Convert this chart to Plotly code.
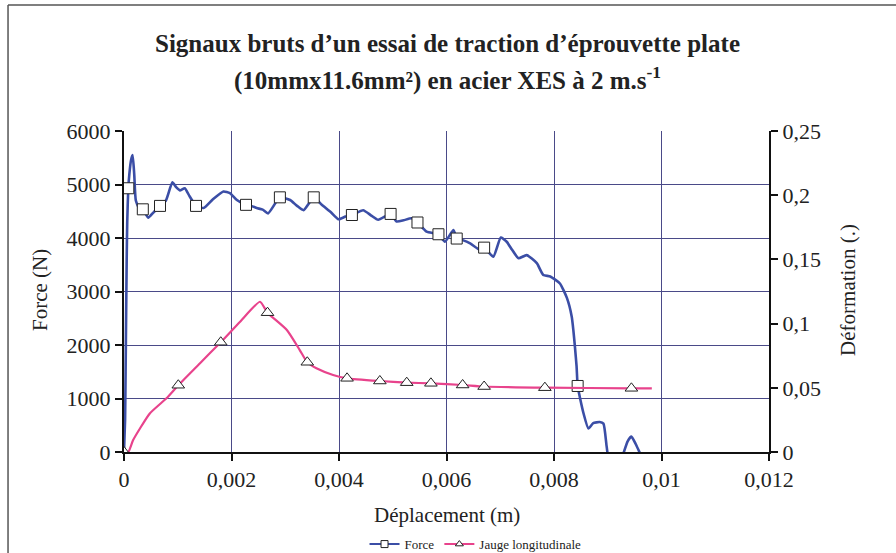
import plotly.graph_objects as go

# Raw signals: force (left axis) and longitudinal gauge strain (right axis) vs displacement
force_x = [0, 0.00002, 0.00003, 0.00004, 0.00005, 0.00006, 0.00008, 0.0001, 0.00013, 0.00016,
           0.00019, 0.00022, 0.00028, 0.00035, 0.00045, 0.00055, 0.00067, 0.00078, 0.0009, 0.00097,
           0.00104, 0.00113, 0.00122, 0.00134, 0.00148, 0.00165, 0.00185, 0.00197, 0.0021, 0.00227,
           0.00237, 0.00247, 0.00258, 0.00268, 0.0029, 0.00309, 0.00322, 0.00334, 0.00353, 0.00368,
           0.00385, 0.00399, 0.00412, 0.00424, 0.00445, 0.0046, 0.00473, 0.00496, 0.00507, 0.0052,
           0.00535, 0.00546, 0.00563, 0.00585, 0.00597, 0.00613, 0.00619, 0.0063, 0.00644, 0.00662,
           0.0067, 0.00687, 0.00701, 0.00712, 0.00722, 0.00734, 0.00749, 0.00768, 0.0078, 0.00793,
           0.00811, 0.00824, 0.00833, 0.00836, 0.00839, 0.00842, 0.00844, 0.00848, 0.00855, 0.00864,
           0.00873, 0.00885, 0.00892, 0.00898, 0.00905, 0.0092, 0.00929, 0.00937, 0.00944, 0.00952,
           0.00963]
force_n = [0, 600, 1500, 2600, 3600, 4300, 4930, 5200, 5450, 5550,
           5200, 4700, 4560, 4536, 4380, 4480, 4600, 4700, 5040, 4950,
           4890, 4930, 4780, 4600, 4560, 4720, 4870, 4840, 4710, 4620,
           4600, 4560, 4530, 4460, 4760, 4710, 4600, 4520, 4760, 4620,
           4480, 4350, 4400, 4430, 4520, 4420, 4340, 4450, 4310, 4330,
           4370, 4290, 4120, 4070, 3930, 4150, 3990, 3960, 3900, 3780,
           3820, 3650, 4010, 3930, 3780, 3620, 3680, 3530, 3310, 3280,
           3150, 2880, 2530, 2280, 1960, 1600, 1234, 1030, 720, 440,
           540, 560, 530, 100, -300, -300, -30, 200, 290, 150,
           -90]

force_mark_x = [0.00008, 0.00035, 0.00067, 0.00134, 0.00227, 0.0029, 0.00353, 0.00424,
                0.00496, 0.00546, 0.00585, 0.00619, 0.0067, 0.00844]
force_mark_n = [4930, 4536, 4600, 4600, 4620, 4760, 4760, 4430,
                4450, 4290, 4070, 3990, 3820, 1234]

gauge_x = [0, 0.00008, 0.00017, 0.00048, 0.00079, 0.00101, 0.00141, 0.0018, 0.00216, 0.00253,
           0.00267, 0.00303, 0.00327, 0.00341, 0.00358, 0.00389, 0.00415, 0.00476, 0.00526, 0.00571,
           0.0063, 0.0067, 0.00783, 0.00944, 0.00982]
gauge_def = [0, 0.0, 0.0093, 0.030, 0.0418, 0.052, 0.069, 0.0855, 0.1015, 0.117,
             0.1085, 0.095, 0.0794, 0.0699, 0.0652, 0.060, 0.0574, 0.0553, 0.054, 0.0535,
             0.0522, 0.051, 0.0501, 0.0496, 0.0495]

gauge_mark_x = [0, 0.00101, 0.0018, 0.00267, 0.00341, 0.00415, 0.00476, 0.00526, 0.00571,
                0.0063, 0.0067, 0.00783, 0.00944]
gauge_mark_def = [0, 0.052, 0.0855, 0.1085, 0.0699, 0.0574, 0.0553, 0.054, 0.0535,
                  0.0522, 0.051, 0.0501, 0.0496]

x_ticks = [0, 0.002, 0.004, 0.006, 0.008, 0.01, 0.012]
x_tick_text = ["0", "0,002", "0,004", "0,006", "0,008", "0,01", "0,012"]
y_ticks = [0, 1000, 2000, 3000, 4000, 5000, 6000]
y_tick_text = ["0", "1000", "2000", "3000", "4000", "5000", "6000"]
y2_ticks = [0, 0.05, 0.1, 0.15, 0.2, 0.25]
y2_tick_text = ["0", "0,05", "0,1", "0,15", "0,2", "0,25"]

BLUE = "#3b4ea6"
PINK = "#e8438c"
SERIF = "Times New Roman, Liberation Serif, DejaVu Serif, serif"
GRID = "#4a4a88"
INK = "#222222"

fig = go.Figure()

fig.add_trace(go.Scatter(x=force_x, y=force_n, mode="lines",
                         line=dict(color=BLUE, width=2.6, shape="spline", smoothing=0.5),
                         showlegend=False, hoverinfo="skip"))
fig.add_trace(go.Scatter(x=force_mark_x, y=force_mark_n, mode="markers",
                         marker=dict(symbol="square", size=11, color="white",
                                     line=dict(color=INK, width=1)),
                         showlegend=False))
fig.add_trace(go.Scatter(x=gauge_x, y=gauge_def, mode="lines", yaxis="y2",
                         line=dict(color=PINK, width=2.2, shape="spline", smoothing=0.5),
                         showlegend=False, hoverinfo="skip"))
fig.add_trace(go.Scatter(x=gauge_mark_x, y=gauge_mark_def, mode="markers", yaxis="y2",
                         marker=dict(symbol="triangle-up", size=11, color="white",
                                     line=dict(color=INK, width=1)),
                         showlegend=False))

# legend entries
fig.add_trace(go.Scatter(x=[None], y=[None], mode="lines+markers", name="Force",
                         line=dict(color=BLUE, width=2),
                         marker=dict(symbol="square", size=7, color="white",
                                     line=dict(color=INK, width=1))))
fig.add_trace(go.Scatter(x=[None], y=[None], mode="lines+markers", name="Jauge longitudinale",
                         yaxis="y2", line=dict(color=PINK, width=2),
                         marker=dict(symbol="triangle-up", size=7, color="white",
                                     line=dict(color=INK, width=1))))

axis_font = dict(family=SERIF, size=22, color=INK)
title_font = dict(family=SERIF, size=21, color=INK)
tick_common = dict(showline=True, linecolor="#111111", linewidth=2, zeroline=False,
                   ticks="outside", ticklen=7, tickwidth=2, tickcolor="#111111",
                   tickfont=axis_font, tickmode="array")

fig.update_layout(
    width=896, height=553,
    margin=dict(l=124, r=127, t=131, b=101, autoexpand=False),
    paper_bgcolor="white", plot_bgcolor="white",
    font=dict(family=SERIF, color=INK),
    showlegend=True,
    legend=dict(orientation="h", x=0.545, y=-0.287, xanchor="center", yanchor="middle",
                font=dict(family=SERIF, size=13, color=INK),
                itemwidth=30, tracegroupgap=0, bgcolor="rgba(0,0,0,0)"),
    xaxis=dict(range=[0, 0.012], tickvals=x_ticks, ticktext=x_tick_text,
               showgrid=True, gridcolor=GRID, gridwidth=1, **tick_common),
    yaxis=dict(range=[0, 6000], tickvals=y_ticks, ticktext=y_tick_text,
               showgrid=True, gridcolor=GRID, gridwidth=1, **tick_common),
    yaxis2=dict(range=[0, 0.25], overlaying="y", side="right",
                tickvals=y2_ticks, ticktext=y2_tick_text, showgrid=False, **tick_common),
    annotations=[
        dict(text="<b>Signaux bruts d\u2019un essai de traction d\u2019\u00e9prouvette plate</b>",
             xref="paper", yref="paper", x=0.5008, y=1.272, showarrow=False,
             font=dict(family=SERIF, size=25, color=INK), xanchor="center", yanchor="middle"),
        dict(text="<b>(10mmx11.6mm\u00b2) en acier XES \u00e0 2 m.s<sup>-1</sup></b>",
             xref="paper", yref="paper", x=0.5008, y=1.165, showarrow=False,
             font=dict(family=SERIF, size=25, color=INK), xanchor="center", yanchor="middle"),
        dict(text="Force (N)", xref="paper", yref="paper", x=-0.130, y=0.505, textangle=-90,
             showarrow=False, font=title_font, xanchor="center", yanchor="middle"),
        dict(text="D\u00e9formation (.)", xref="paper", yref="paper", x=1.1225, y=0.505,
             textangle=-90, showarrow=False, font=title_font, xanchor="center", yanchor="middle"),
        dict(text="D\u00e9placement (m)", xref="paper", yref="paper", x=0.5008, y=-0.196,
             showarrow=False, font=title_font, xanchor="center", yanchor="middle"),
    ],
    shapes=[
        # frame edges around the chart area
        dict(type="line", xref="paper", yref="paper", x0=-0.1798, x1=-0.1798, y0=-0.32, y1=1.3925,
             line=dict(color="#555555", width=1.5)),
        dict(type="line", xref="paper", yref="paper", x0=-0.1798, x1=1.2, y0=1.3925, y1=1.3925,
             line=dict(color="#555555", width=1.5)),
    ],
)

fig.write_html("out.html")
